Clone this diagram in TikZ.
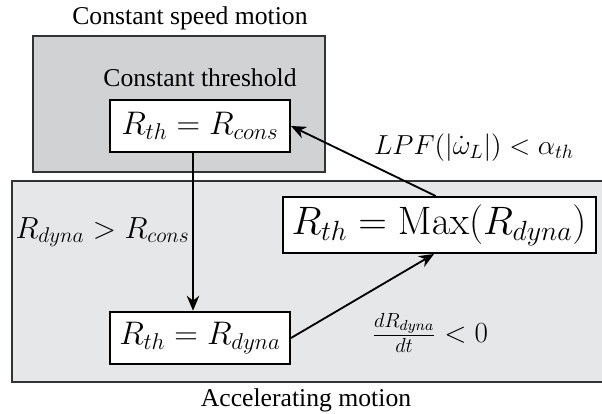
\RequirePackage{fix-cm}
\documentclass[tikz,border=0pt]{standalone}
\usepackage{amsmath}
\usepackage[no-math]{fontspec}
\setmainfont{LiberationSerif}[Extension=.ttf, UprightFont=*-Regular, BoldFont=*-Bold]
\usepackage{tikz}
\usetikzlibrary{positioning,arrows.meta}

\definecolor{constfill}{RGB}{209,210,212}
\definecolor{accelfill}{RGB}{230,231,232}

\begin{document}
\begin{tikzpicture}[
        x=0.6pt, y=-0.6pt,
        every node/.style={font=\rmfamily\fontsize{15.4}{18}\selectfont},
        zone/.style={draw=black!80, line width=1.2pt},
        eqbox/.style={
            draw=black,
            line width=1.2pt,
            fill=white,
            inner sep=0pt,
            minimum width=108pt,
            minimum height=31.5pt,
            font=\fontsize{19.6}{23}\selectfont
        },
        cond/.style={font=\fontsize{18.3}{22}\selectfont},
        flow/.style={-{Stealth[length=9pt,width=7.5pt]}, line width=1.1pt}
    ]
        \useasboundingbox (0,0) rectangle (602,414);

        % Motion zones
        \draw[zone, fill=constfill] (33,36) rectangle (325,172);
        \fill[accelfill] (12,181) rectangle (602,382);
        \draw[zone] (602,181) -- (12,181) -- (12,382) -- (602,382);

        % Zone labels
        \node (cspeed) at (190,18) {Constant speed motion};
        \node (cthresh) at (200,78) {Constant threshold};
        \node (accel) at (306,400) {Accelerating motion};

        % Threshold states
        \node[eqbox] (rcons) at (200,126) {$R_{th} = R_{cons}$};
        \node[eqbox] (rdyna) at (200,338) {$R_{th} = R_{dyna}$};
        \node[eqbox, minimum width=187.8pt, minimum height=33.6pt,
              font=\fontsize{23.8}{28}\selectfont] (rmax) at (439,225) {$R_{th} = \mathrm{Max}(R_{dyna})$};

        % Transitions
        \draw[flow] ([xshift=-4.2pt]rcons.south) -- node[cond, left, inner sep=1.5pt] {$R_{dyna} > R_{cons}$} ([xshift=-4.2pt]rdyna.north);
        \draw[flow] (rdyna.east) -- ([xshift=-3pt]rmax.south);
        \draw[flow] ([xshift=-2pt]rmax.north) -- (rcons.east);

        % Conditions
        \node[cond, font=\fontsize{16.5}{20}\selectfont] (lpf) at (474,148) {$LPF(|\dot{\omega}_L|) < \alpha_{th}$};
        \node[cond, font=\fontsize{17.5}{21}\selectfont] (drdt) at (430,333) {$\frac{dR_{dyna}}{dt} < 0$};

    \end{tikzpicture}
\end{document}
